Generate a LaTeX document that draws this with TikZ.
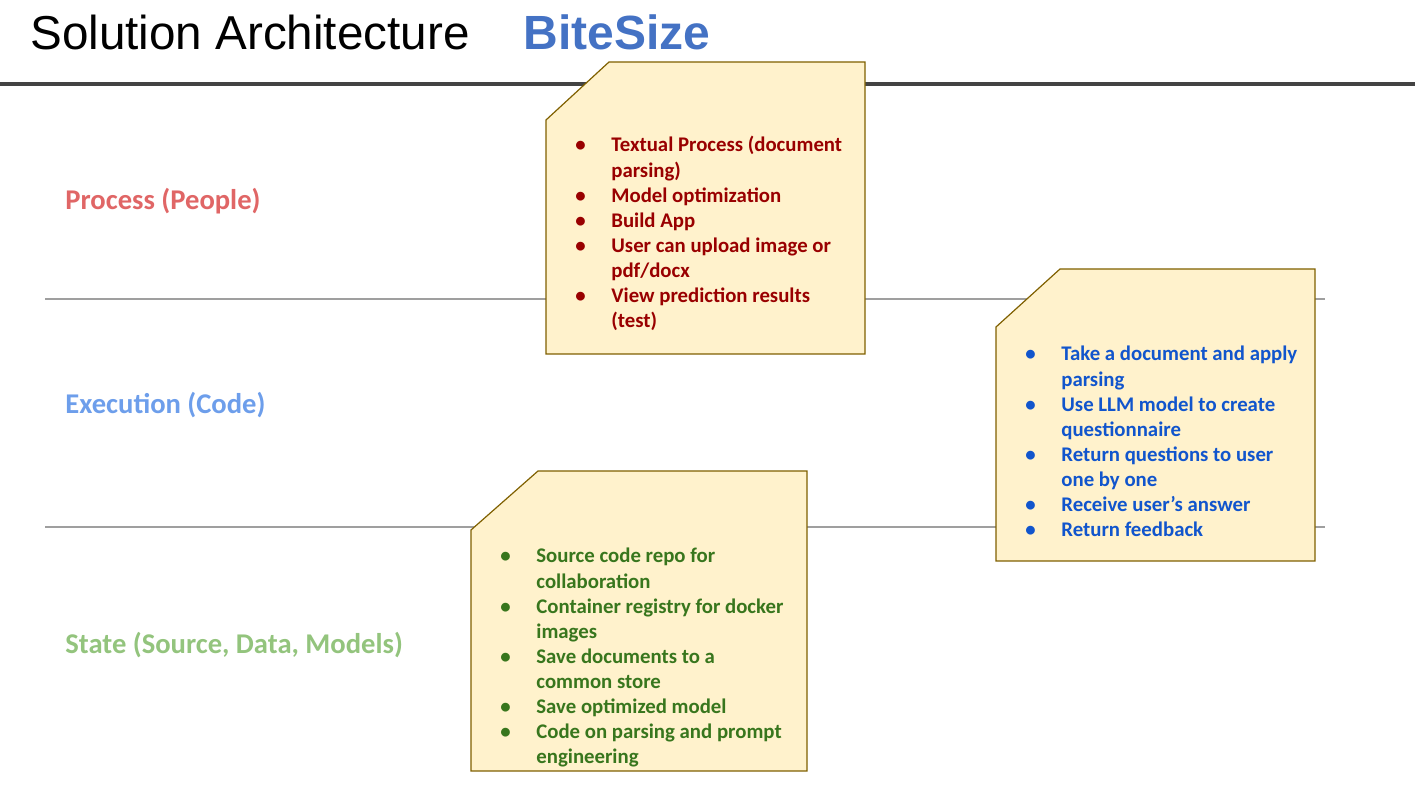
\documentclass[tikz,border=0pt]{standalone}
\usepackage{fontspec}
\setmainfont{Carlito}
\newfontfamily\titlefont{Liberation Sans}
\usepackage{xcolor}
\usepackage{tikz}
\usetikzlibrary{positioning}
\definecolor{procred}{HTML}{990000}
\definecolor{execblue}{HTML}{1155CC}
\definecolor{stategreen}{HTML}{38761D}
\definecolor{proclight}{HTML}{E06666}
\definecolor{execlight}{HTML}{6D9EEB}
\definecolor{statelight}{HTML}{93C47D}
\definecolor{brandblue}{HTML}{4472C4}
\definecolor{notefill}{HTML}{FFF2CC}
\definecolor{noteedge}{HTML}{7F6000}
\definecolor{ruledark}{HTML}{434343}
\newcommand{\bl}{\makebox[18pt][l]{\textbullet}}
\newcommand{\nb}{\makebox[18pt][l]{}}
\tikzset{
  note/.style={fill=notefill,draw=noteedge,line width=0.6pt},
  notetext/.style={anchor=base west,inner sep=0pt,font=\bfseries\fontsize{10.4}{12.55}\selectfont},
  lanelabel/.style={anchor=west,inner sep=0pt,font=\bfseries\fontsize{14.3}{17}\selectfont},
  lane/.style={draw=gray!75,line width=0.9pt}
}

\begin{document}
\begin{tikzpicture}[x=0.5pt,y=-0.5pt]
  \useasboundingbox (0,0) rectangle (1415,795);
  \def\yA{299}
  \def\yB{527}
  % header
  \node[anchor=base west,inner sep=0pt,font=\titlefont\fontsize{23.8}{28}\selectfont] (title) at (30,50) {Solution Architecture};
  \node[anchor=base west,inner sep=0pt,font=\titlefont\bfseries\fontsize{24}{28}\selectfont,text=brandblue] (brand) at (523,50) {BiteSize};
  \draw[ruledark,line width=1.6pt] (0,84) -- (1415,84);
  % lanes
  \draw[lane] (45,\yA) -- (1325,\yA);
  \draw[lane] (45,\yB) -- (1325,\yB);
  \node[lanelabel,text=proclight] (proclbl) at (65,201) {Process (People)};
  \node[lanelabel,text=execlight] (execlbl) at (65,405) {Execution (Code)};
  \node[lanelabel,text=statelight] (statelbl) at (65,645) {State (Source, Data, Models)};
  % notes
  \foreach \xa/\ya/\xb/\yb/\cx/\cy in {546/62/865/354/63/58, 996/269/1315/561/64/58, 471/471/807/771/67/59} {
    \draw[note] (\xa,\ya+\cy) -- (\xa+\cx,\ya) -- (\xb,\ya) -- (\xb,\yb) -- (\xa,\yb) -- cycle;
  }
  \node[notetext,text=procred] (proctxt) at (575,152) {\begin{tabular}[t]{@{}l@{}}
    \bl Textual Process (document\\ \nb parsing)\\
    \bl Model optimization\\
    \bl Build App\\
    \bl User can upload image or\\ \nb pdf/docx\\
    \bl View prediction results\\ \nb (test)
  \end{tabular}};
  \node[notetext,text=execblue] (exectxt) at (1025,361) {\begin{tabular}[t]{@{}l@{}}
    \bl Take a document and apply\\ \nb parsing\\
    \bl Use LLM model to create\\ \nb questionnaire\\
    \bl Return questions to user\\ \nb one by one\\
    \bl Receive user’s answer\\
    \bl Return feedback
  \end{tabular}};
  \node[notetext,text=stategreen] (statetxt) at (500,563) {\begin{tabular}[t]{@{}l@{}}
    \bl Source code repo for\\ \nb collaboration\\
    \bl Container registry for docker\\ \nb images\\
    \bl Save documents to a\\ \nb common store\\
    \bl Save optimized model\\
    \bl Code on parsing and prompt\\ \nb engineering
  \end{tabular}};
\end{tikzpicture}
\end{document}
